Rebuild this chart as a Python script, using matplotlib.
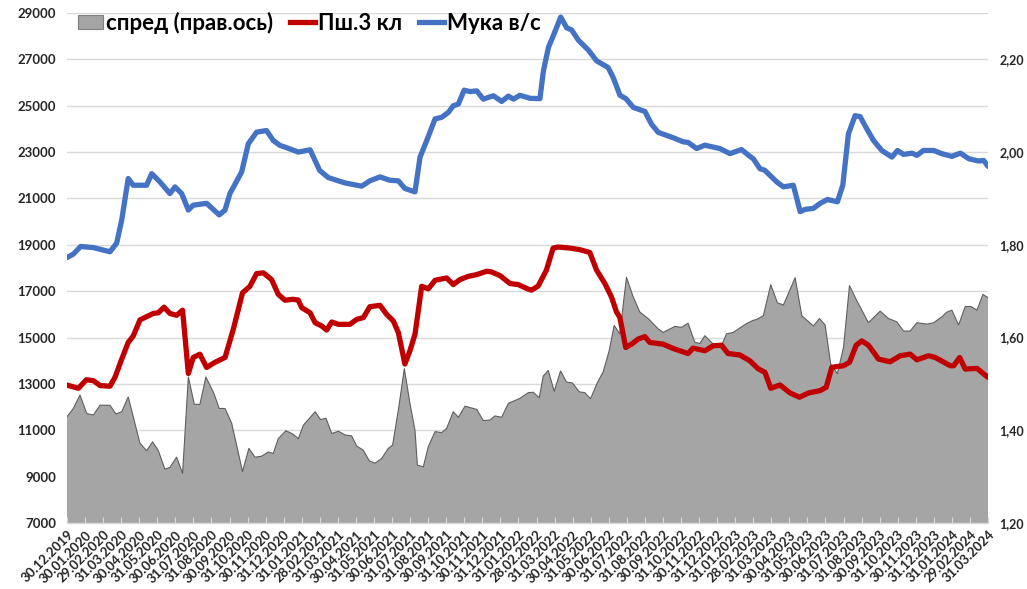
import matplotlib
matplotlib.use('Agg')
import matplotlib.pyplot as plt
from matplotlib.ticker import MultipleLocator, FuncFormatter
from matplotlib.patches import Patch
from matplotlib.lines import Line2D

plt.rcParams['font.family'] = ['Lato', 'DejaVu Sans']
plt.rcParams['font.weight'] = 'bold'

# ---- tick labels (month-end dates, one per category position) ----
date_labels = [
    "30.12.2019", "30.01.2020", "29.02.2020", "31.03.2020", "30.04.2020", "31.05.2020",
    "30.06.2020", "31.07.2020", "31.08.2020", "30.09.2020", "31.10.2020", "30.11.2020",
    "31.12.2020", "31.01.2021", "28.02.2021", "31.03.2021", "30.04.2021", "31.05.2021",
    "30.06.2021", "31.07.2021", "31.08.2021", "30.09.2021", "31.10.2021", "30.11.2021",
    "31.12.2021", "31.01.2022", "28.02.2022", "31.03.2022", "30.04.2022", "31.05.2022",
    "30.06.2022", "31.07.2022", "31.08.2022", "30.09.2022", "31.10.2022", "30.11.2022",
    "31.12.2022", "31.01.2023", "28.02.2023", "31.03.2023", "30.04.2023", "31.05.2023",
    "30.06.2023", "31.07.2023", "31.08.2023", "30.09.2023", "31.10.2023", "30.11.2023",
    "31.12.2023", "31.01.2024", "29.02.2024", "31.03.2024",
]

# ---- Мука в/с (left axis); positions in months since 30.12.2019 ----
flour_pos = [0, 0.35, 0.76, 1.46, 2.38, 2.75, 3.03, 3.39, 3.67, 4.41, 4.69, 5.15, 5.70, 5.98,
             6.35, 6.72, 6.99, 7.73, 8.43, 8.75, 9.02, 9.67, 10.04, 10.50, 11.05, 11.42, 11.79,
             12.3, 12.81, 13.46, 13.99, 14.47, 14.93, 15.39, 16.32, 16.77, 17.33, 17.88, 18.35,
             18.71, 19.27, 19.55, 19.92, 20.38, 20.75, 21.12, 21.39, 21.67, 21.99, 22.31, 22.69,
             23.05, 23.61, 24.07, 24.44, 24.72, 25.08, 25.64, 26.19, 26.38, 26.66, 26.93, 27.34,
             27.67, 27.94, 28.31, 28.87, 29.33, 29.97, 30.25, 30.62, 30.95, 31.36, 32.0, 32.37,
             32.74, 33.57, 34.12, 34.40, 34.86, 35.32, 36.15, 36.71, 37.35, 37.81, 38.0, 38.37,
             38.64, 39.3, 39.67, 40.22, 40.6, 40.87, 41.33, 41.7, 42.11, 42.66, 42.96, 43.27,
             43.64, 43.92, 44.29, 44.66, 45.12, 45.68, 45.99, 46.32, 46.79, 47.06, 47.43, 47.99,
             48.45, 49.0, 49.47, 49.93, 50.48, 50.76, 51.0]
flour_val = [18450, 18600, 18930, 18880, 18700, 19070, 20070, 21860, 21570, 21570, 22070, 21710,
             21210, 21500, 21210, 20500, 20710, 20790, 20290, 20500, 21210, 22140, 23360, 23860,
             23930, 23500, 23290, 23150, 23000, 23100, 22210, 21900, 21785, 21670, 21530, 21760,
             21930, 21785, 21760, 21430, 21285, 22785, 23500, 24430, 24500, 24715, 25000, 25070,
             25670, 25610, 25640, 25285, 25430, 25185, 25415, 25285, 25450, 25320, 25305, 26500,
             27516, 28025, 28825, 28360, 28273, 27836, 27400, 26935, 26644, 26207, 25451, 25305,
             24927, 24753, 24200, 23851, 23618, 23444, 23415, 23153, 23298, 23153, 22935, 23109,
             22820, 22715, 22285, 22215, 21715, 21500, 21570, 20430, 20530, 20570, 20785, 20955,
             20855, 21570, 23785, 24570, 24530, 24000, 23500, 23070, 22785, 23070, 22900, 22955,
             22860, 23070, 23070, 22930, 22815, 22955, 22715, 22615, 22640, 22385]

# ---- Пш.3 кл (left axis) ----
wheat_pos = [0, 0.63, 1.07, 1.46, 1.83, 2.38, 2.66, 3.03, 3.39, 3.67, 4.04, 4.41, 4.78, 5.06,
             5.37, 5.70, 6.07, 6.40, 6.72, 6.99, 7.36, 7.73, 8.19, 8.75, 9.21, 9.72, 10.13,
             10.50, 10.87, 11.33, 11.70, 12.07, 12.5, 12.8, 13.0, 13.46, 13.74, 14.1, 14.38,
             14.66, 15.03, 15.67, 16.04, 16.41, 16.77, 17.33, 17.70, 18.07, 18.35, 18.71, 18.99,
             19.27, 19.64, 20.01, 20.38, 21.02, 21.39, 21.76, 22.22, 22.69, 23.24, 23.51, 23.98,
             24.53, 24.99, 25.5, 25.72, 26.09, 26.55, 26.92, 27.2, 27.85, 28.4, 28.95, 29.32,
             29.78, 30.15, 30.43, 30.61, 30.94, 31.26, 31.63, 32.0, 32.27, 33.01, 33.56, 34.39,
             34.67, 35.32, 35.78, 36.24, 36.61, 37.25, 37.81, 38.28, 38.65, 38.97, 39.48, 40.04,
             40.56, 41.06, 41.7, 42.04, 42.35, 43.0, 43.33, 43.7, 44.01, 44.38, 44.94, 45.58,
             46.14, 46.69, 47.06, 47.71, 48.08, 48.91, 49.1, 49.43, 49.74, 50.39, 50.76, 51.0]
wheat_val = [12950, 12810, 13180, 13140, 12930, 12900, 13290, 14070, 14790, 15070, 15760, 15900,
             16040, 16070, 16310, 16040, 15960, 16180, 13450, 14140, 14280, 13710, 13930, 14140,
             15360, 16930, 17210, 17760, 17790, 17500, 16860, 16610, 16650, 16620, 16285, 16070,
             15640, 15500, 15325, 15670, 15570, 15570, 15785, 15860, 16330, 16390, 16000, 15715,
             15210, 13860, 14430, 15140, 17210, 17100, 17470, 17570, 17285, 17500, 17640, 17715,
             17860, 17830, 17670, 17330, 17285, 17100, 17045, 17220, 17915, 18860, 18905, 18860,
             18790, 18670, 17915, 17335, 16750, 16100, 15880, 14570, 14715, 14935, 15040, 14790,
             14715, 14530, 14310, 14545, 14430, 14645, 14670, 14310, 14250, 14000, 13650, 13500,
             12810, 12955, 12610, 12425, 12610, 12710, 12855, 13715, 13785, 13930, 14670, 14855,
             14670, 14070, 13955, 14215, 14285, 14040, 14215, 14140, 13785, 13785, 14140, 13640,
             13670, 13430, 13285]

# ---- спред (right axis) ----
spread_pos = [0, 0.35, 0.72, 1.09, 1.46, 1.83, 2.38, 2.71, 3.03, 3.39, 4.04, 4.41, 4.74, 5.06,
              5.42, 5.70, 6.07, 6.40, 6.72, 7.05, 7.36, 7.69, 8.14, 8.43, 8.75, 9.12, 9.72,
              10.07, 10.41, 10.77, 11.14, 11.42, 11.70, 12.12, 12.5, 12.81, 13.09, 13.74, 14.04,
              14.34, 14.66, 15.03, 15.39, 15.76, 16.04, 16.41, 16.74, 17.05, 17.42, 17.79, 18.03,
              18.35, 18.68, 18.99, 19.27, 19.40, 19.73, 20.01, 20.38, 20.75, 21.02, 21.39, 21.67,
              22.04, 22.69, 23.05, 23.42, 23.70, 24.07, 24.44, 25.08, 25.54, 25.82, 26.15, 26.37,
              26.65, 26.98, 27.33, 27.66, 27.99, 28.36, 28.68, 28.99, 29.36, 29.69, 30.02, 30.30,
              30.61, 30.98, 31.35, 31.72, 32.18, 32.73, 33.01, 33.66, 34.03, 34.39, 34.76, 35.04,
              35.32, 35.78, 36.24, 36.52, 36.89, 37.62, 37.99, 38.19, 38.56, 38.97, 39.34, 39.67,
              40.32, 40.69, 41.33, 41.67, 41.98, 42.29, 42.66, 43.0, 43.33, 43.74, 44.38, 45.03,
              45.49, 45.95, 46.32, 46.69, 47.06, 47.62, 47.99, 48.45, 48.73, 49.0, 49.37, 49.74,
              50.06, 50.39, 50.72, 51.0]
spread_val = [1.429, 1.447, 1.476, 1.436, 1.433, 1.454, 1.454, 1.435, 1.440, 1.472, 1.372, 1.356,
              1.375, 1.356, 1.316, 1.320, 1.342, 1.307, 1.515, 1.456, 1.456, 1.515, 1.479, 1.447,
              1.447, 1.415, 1.311, 1.361, 1.342, 1.344, 1.353, 1.350, 1.382, 1.399, 1.392, 1.382,
              1.411, 1.440, 1.423, 1.426, 1.393, 1.398, 1.390, 1.388, 1.366, 1.357, 1.334, 1.329,
              1.339, 1.361, 1.368, 1.444, 1.533, 1.458, 1.400, 1.325, 1.321, 1.365, 1.397, 1.395,
              1.404, 1.440, 1.428, 1.452, 1.445, 1.421, 1.422, 1.431, 1.428, 1.458, 1.469, 1.481,
              1.482, 1.470, 1.517, 1.529, 1.484, 1.528, 1.504, 1.502, 1.483, 1.481, 1.468, 1.502,
              1.526, 1.571, 1.626, 1.608, 1.730, 1.688, 1.655, 1.641, 1.619, 1.611, 1.624, 1.622,
              1.631, 1.590, 1.587, 1.604, 1.586, 1.582, 1.608, 1.611, 1.630, 1.637, 1.639, 1.647,
              1.714, 1.675, 1.670, 1.729, 1.647, 1.625, 1.641, 1.627, 1.543, 1.522, 1.579, 1.712,
              1.679, 1.632, 1.657, 1.641, 1.634, 1.614, 1.614, 1.632, 1.629, 1.632, 1.645, 1.655,
              1.659, 1.627, 1.667, 1.667, 1.659, 1.693, 1.686]

legend_labels = ["спред (прав.ось)", "Пш.3 кл", "Мука в/с"]

BLUE = '#4472C4'
RED = '#C00000'
GRAY = '#A5A5A5'
GRID = '#D9D9D9'
TXT = '#262626'

fig = plt.figure(figsize=(10.27, 5.89), dpi=100)
ax = fig.add_axes([67 / 1027, 1 - 523 / 589, (988 - 67) / 1027, (523 - 13) / 589])
axr = ax.twinx()
ax.set_zorder(axr.get_zorder() + 1)
ax.patch.set_visible(False)

# right axis: area + gridlines (gridlines below the area)
axr.fill_between(spread_pos, spread_val, 1.2, facecolor=GRAY, edgecolor='none', zorder=2)
axr.plot(spread_pos, spread_val, color='#5F5F5F', lw=0.8, zorder=3)
axr.set_ylim(1.2, 2.3)
axr.yaxis.set_major_locator(MultipleLocator(0.2))
axr.yaxis.set_minor_locator(MultipleLocator(0.1))
axr.yaxis.set_major_formatter(FuncFormatter(lambda v, _: f"{v:.2f}".replace('.', ',')))
axr.set_axisbelow(True)
axr.grid(True, which='both', axis='y', color=GRID, lw=1.0)
axr.tick_params(axis='y', which='both', length=0, labelsize=9, pad=8, labelcolor=TXT)
for s in axr.spines.values():
    s.set_visible(False)

# left axis: lines
ax.plot(wheat_pos, wheat_val, color=RED, lw=3.8, solid_joinstyle='round', solid_capstyle='round', zorder=3)
ax.plot(flour_pos, flour_val, color=BLUE, lw=3.8, solid_joinstyle='round', solid_capstyle='round', zorder=4)
ax.set_ylim(7000, 29000)
ax.set_yticks(range(7000, 29001, 2000))
ax.tick_params(axis='y', length=0, labelsize=9.5, pad=8, labelcolor=TXT)
ax.set_xlim(0, len(date_labels) - 1)
ax.set_xticks(range(len(date_labels)))
ax.set_xticklabels(date_labels, rotation=45, ha='right', rotation_mode='anchor', fontsize=9.5)
ax.tick_params(axis='x', direction='in', length=4, color=GRID, pad=4, labelcolor=TXT)
for name, s in ax.spines.items():
    s.set_visible(name == 'bottom')
ax.spines['bottom'].set_color(GRID)
ax.spines['bottom'].set_linewidth(1.0)

handles = [Patch(facecolor=GRAY, edgecolor='#7F7F7F', lw=0.8),
           Line2D([], [], color=RED, lw=3.8),
           Line2D([], [], color=BLUE, lw=3.8)]
leg = ax.legend(handles, legend_labels, loc='upper left', bbox_to_anchor=(0.002, 1.02), ncol=3,
                frameon=False, fontsize=16, handlelength=1.15, handleheight=0.6,
                handletextpad=0.12, columnspacing=0.75, borderaxespad=0.0)
for t in leg.get_texts():
    t.set_color('#000000')

fig.savefig('out.png', dpi=100)
